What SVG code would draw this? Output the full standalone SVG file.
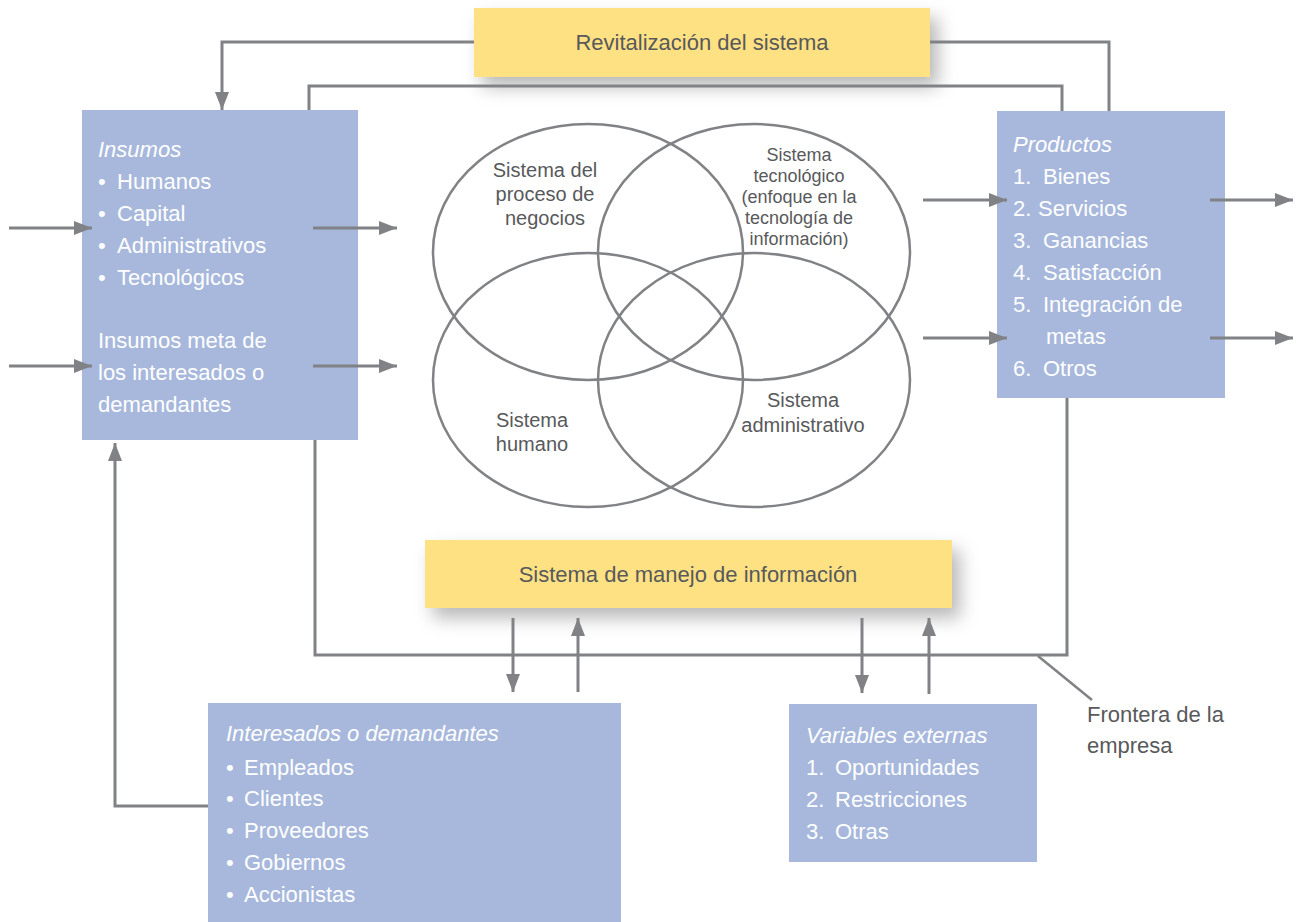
<svg xmlns="http://www.w3.org/2000/svg" width="1296" height="922" viewBox="0 0 1296 922">
<defs>
<marker id="ah" markerUnits="userSpaceOnUse" markerWidth="18" markerHeight="14" viewBox="0 0 18 14" refX="18" refY="7" orient="auto">
<path d="M0,0 L18,7 L0,14 z" fill="#808285"/>
</marker>
<filter id="sh" x="-10%" y="-30%" width="130%" height="190%">
<feDropShadow dx="8" dy="10" stdDeviation="9" flood-color="#000" flood-opacity="0.28"/>
</filter>
<style>
.ln{fill:none;stroke:#808285;stroke-width:3}
.ar{fill:none;stroke:#808285;stroke-width:3;marker-end:url(#ah)}
.ell{fill:none;stroke:#808285;stroke-width:2.5}
.blue{fill:#a7b8dc}
.yel{fill:#fee183}
text{font-family:"Liberation Sans",Arial,sans-serif}
.w{fill:#ffffff;font-size:22px}
.wi{fill:#ffffff;font-size:22px;font-style:italic}
.g{fill:#58595b;font-size:22px}
.ge{fill:#58595b;font-size:20px;text-anchor:middle}
.gs{fill:#58595b;font-size:18px;text-anchor:middle}
</style>
</defs>
<rect width="1296" height="922" fill="#ffffff"/>

<g id="revitalizacion">
<rect class="yel" x="474" y="8" width="456" height="69" filter="url(#sh)"/>
<text class="g" x="702" y="50" text-anchor="middle">Revitalización del sistema</text>
</g>

<g id="insumos">
<rect class="blue" x="82" y="110" width="276" height="330"/>
<text class="wi" x="98" y="157">Insumos</text>
<text class="w" x="98" y="189">•</text><text class="w" x="117" y="189">Humanos</text>
<text class="w" x="98" y="221">•</text><text class="w" x="117" y="221">Capital</text>
<text class="w" x="98" y="253">•</text><text class="w" x="117" y="253">Administrativos</text>
<text class="w" x="98" y="285">•</text><text class="w" x="117" y="285">Tecnológicos</text>
<text class="w" x="98" y="348">Insumos meta de</text>
<text class="w" x="98" y="380">los interesados o</text>
<text class="w" x="98" y="412">demandantes</text>
</g>

<g id="productos">
<rect class="blue" x="997" y="111" width="228" height="287"/>
<text class="wi" x="1013" y="152">Productos</text>
<text class="w" x="1013" y="184">1.</text><text class="w" x="1043" y="184">Bienes</text>
<text class="w" x="1013" y="216">2.</text><text class="w" x="1038" y="216">Servicios</text>
<text class="w" x="1013" y="248">3.</text><text class="w" x="1043" y="248">Ganancias</text>
<text class="w" x="1013" y="280">4.</text><text class="w" x="1043" y="280">Satisfacción</text>
<text class="w" x="1013" y="312">5.</text><text class="w" x="1043" y="312">Integración de</text>
<text class="w" x="1046" y="344">metas</text>
<text class="w" x="1013" y="376">6.</text><text class="w" x="1043" y="376">Otros</text>
</g>

<g id="venn">
<ellipse class="ell" cx="588" cy="252" rx="155" ry="128"/>
<ellipse class="ell" cx="754" cy="252" rx="156" ry="128"/>
<ellipse class="ell" cx="588" cy="380" rx="155" ry="127"/>
<ellipse class="ell" cx="754" cy="380" rx="156" ry="127"/>
</g>
<g id="proceso-negocios">
<text class="ge" x="545" y="177">Sistema del</text>
<text class="ge" x="545" y="201">proceso de</text>
<text class="ge" x="545" y="225">negocios</text>
</g>
<g id="sistema-tecnologico">
<text class="gs" x="799" y="161">Sistema</text>
<text class="gs" x="799" y="182">tecnológico</text>
<text class="gs" x="799" y="203">(enfoque en la</text>
<text class="gs" x="799" y="224">tecnología de</text>
<text class="gs" x="799" y="245">información)</text>
</g>
<g id="sistema-humano">
<text class="ge" x="532" y="427">Sistema</text>
<text class="ge" x="532" y="451">humano</text>
</g>
<g id="sistema-administrativo">
<text class="ge" x="803" y="407">Sistema</text>
<text class="ge" x="803" y="432">administrativo</text>
</g>

<g id="manejo-informacion">
<rect class="yel" x="425" y="540" width="527" height="68" filter="url(#sh)"/>
<text class="g" x="688" y="582" text-anchor="middle">Sistema de manejo de información</text>
</g>

<g id="interesados">
<rect class="blue" x="208" y="703" width="413" height="219"/>
<text class="wi" x="226" y="741">Interesados o demandantes</text>
<text class="w" x="226" y="775">•</text><text class="w" x="244" y="775">Empleados</text>
<text class="w" x="226" y="806">•</text><text class="w" x="244" y="806">Clientes</text>
<text class="w" x="226" y="838">•</text><text class="w" x="244" y="838">Proveedores</text>
<text class="w" x="226" y="870">•</text><text class="w" x="244" y="870">Gobiernos</text>
<text class="w" x="226" y="902">•</text><text class="w" x="244" y="902">Accionistas</text>
</g>

<g id="variables-externas">
<rect class="blue" x="789" y="704" width="248" height="158"/>
<text class="wi" x="806" y="743">Variables externas</text>
<text class="w" x="806" y="775">1.</text><text class="w" x="835" y="775">Oportunidades</text>
<text class="w" x="806" y="807">2.</text><text class="w" x="835" y="807">Restricciones</text>
<text class="w" x="806" y="839">3.</text><text class="w" x="835" y="839">Otras</text>
</g>

<g id="frontera">
<text class="g" x="1087" y="722">Frontera de la</text>
<text class="g" x="1087" y="753">empresa</text>
</g>

<g id="connectors">
<path class="ar" d="M474,42 H222 V110"/>
<path class="ln" d="M1109,111 V42 H930"/>
<path class="ln" d="M309,110 V86 H1062 V111"/>
<path class="ln" d="M315,440 V655 H1067 V398"/>
<path class="ln" d="M1038,656 L1092,700" style="stroke-width:2.5"/>
<path class="ar" d="M9,228 H92"/>
<path class="ar" d="M9,366 H92"/>
<path class="ar" d="M313,228 H397"/>
<path class="ar" d="M313,366 H397"/>
<path class="ar" d="M923,200 H1007"/>
<path class="ar" d="M923,338 H1007"/>
<path class="ar" d="M1210,200 H1293"/>
<path class="ar" d="M1210,338 H1293"/>
<path class="ar" d="M513,618 V692"/>
<path class="ar" d="M578,692 V618"/>
<path class="ar" d="M862,618 V693"/>
<path class="ar" d="M929,694 V618"/>
<path class="ar" d="M208,806 H115 V443"/>
</g>
</svg>
